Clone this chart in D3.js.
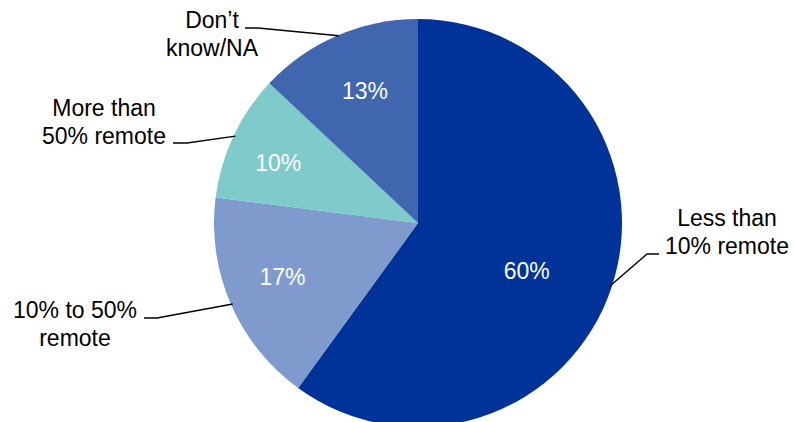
<!DOCTYPE html>
<html>
<head>
<meta charset="utf-8">
<script src="https://cdn.jsdelivr.net/npm/d3@7"></script>
<style>
  html, body { margin: 0; padding: 0; background: #fff; }
  svg { display: block; }
  text { font-family: "Liberation Sans", Arial, sans-serif; }
</style>
</head>
<body>
<svg id="chart" width="794" height="422"></svg>
<script>
// Share of staff working remotely
const categories = ["Less than 10% remote", "10% to 50% remote", "More than 50% remote", "Don\u2019t know/NA"];
const shares = [60, 17, 10, 13];
const valueLabels = ["60%", "17%", "10%", "13%"];
const labelLines = [["Less than", "10% remote"], ["10% to 50%", "remote"], ["More than", "50% remote"], ["Don\u2019t", "know/NA"]];
const colors = ["#003399", "#7f9acd", "#7fcbcb", "#4066b0"];

const width = 794, height = 422;
const cx = 418, cy = 223, radius = 204;
const fontSize = 23, lineGap = 28;

const svg = d3.select("#chart");
const g = svg.append("g").attr("transform", `translate(${cx},${cy})`);

const pie = d3.pie().sort(null).value(d => d);
const arcs = pie(shares);
const arc = d3.arc().innerRadius(0).outerRadius(radius);

g.selectAll("path.slice")
  .data(arcs)
  .join("path")
  .attr("class", "slice")
  .attr("d", arc)
  .attr("fill", (d, i) => colors[i]);

// value labels inside the slices (radius / angle offset in degrees from slice middle)
const inside = [
  { r: 119, da: 6 },
  { r: 146, da: 1.5 },
  { r: 152, da: -2 },
  { r: 142, da: 1.5 }
];
const deg = Math.PI / 180;
g.selectAll("text.value")
  .data(arcs)
  .join("text")
  .attr("class", "value")
  .attr("text-anchor", "middle")
  .attr("font-size", fontSize)
  .attr("fill", "#fff")
  .attr("x", (d, i) => {
    const a = (d.startAngle + d.endAngle) / 2 + inside[i].da * deg;
    return inside[i].r * Math.sin(a);
  })
  .attr("y", (d, i) => {
    const a = (d.startAngle + d.endAngle) / 2 + inside[i].da * deg;
    return -inside[i].r * Math.cos(a) + 8;
  })
  .text((d, i) => valueLabels[i]);

// outside category labels with elbow leader lines
const outside = [
  { elbow: [647, 254], end: [659, 254], tx: 727, ty: 226 },
  { elbow: [157, 318], end: [144, 318], tx: 75,  ty: 318 },
  { elbow: [187, 143], end: [173, 143], tx: 104, ty: 116 },
  { elbow: [258, 28],  end: [245, 28],  tx: 212, ty: 28 }
];

const leader = svg.append("g");
arcs.forEach((d, i) => {
  const a = (d.startAngle + d.endAngle) / 2;
  const px = cx + radius * Math.sin(a) - (Math.sin(a) > 0 ? 2 : -2);
  const py = cy - radius * Math.cos(a);
  const o = outside[i];
  leader.append("path")
    .attr("d", d3.line()([[px, py], o.elbow, o.end]))
    .attr("fill", "none")
    .attr("stroke", "#000")
    .attr("stroke-width", 1.4);
  const t = leader.append("text")
    .attr("text-anchor", "middle")
    .attr("font-size", fontSize)
    .attr("fill", "#000");
  labelLines[i].forEach((line, k) => {
    t.append("tspan").attr("x", o.tx).attr("y", o.ty + k * lineGap).text(line);
  });
});
</script>
</body>
</html>
